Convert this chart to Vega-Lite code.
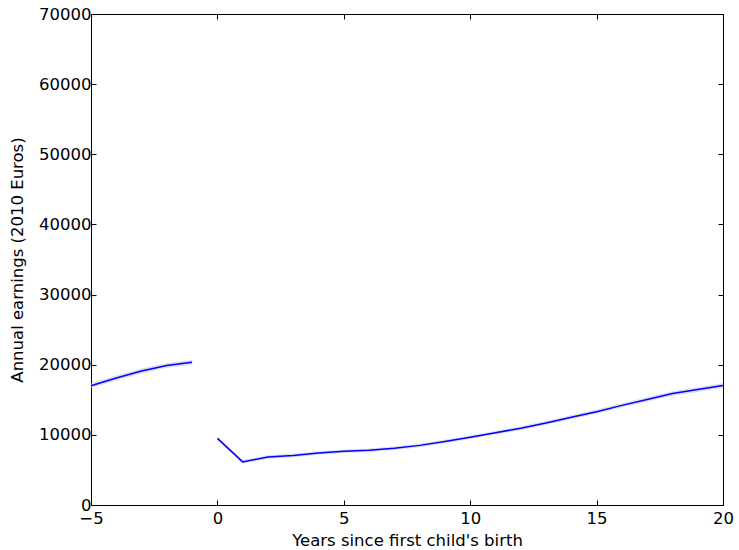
{
  "$schema": "https://vega.github.io/schema/vega-lite/v6.json",
  "width": 632,
  "height": 491,
  "autosize": {"type": "none"},
  "padding": {"left": 91, "top": 14, "right": 16, "bottom": 45},
  "background": "white",
  "config": {
    "font": "DejaVu Sans",
    "view": {"stroke": "black", "strokeWidth": 1},
    "axis": {
      "grid": false,
      "domainColor": "black",
      "domainWidth": 1,
      "tickColor": "black",
      "tickSize": -5,
      "tickWidth": 1,
      "labelFlush": false,
      "labelOverlap": false,
      "labelFont": "DejaVu Sans",
      "labelFontSize": 16.5,
      "labelColor": "black",
      "titleFont": "DejaVu Sans",
      "titleFontSize": 16.5,
      "titleFontWeight": "normal",
      "titleColor": "black"
    }
  },
  "data": {
    "values": [
      {"t": -5, "earn": 17000, "lo": 16650, "hi": 17350, "seg": "pre"},
      {"t": -4, "earn": 18100, "lo": 17750, "hi": 18450, "seg": "pre"},
      {"t": -3, "earn": 19100, "lo": 18750, "hi": 19450, "seg": "pre"},
      {"t": -2, "earn": 19900, "lo": 19550, "hi": 20250, "seg": "pre"},
      {"t": -1, "earn": 20350, "lo": 20000, "hi": 20700, "seg": "pre"},
      {"t": 0, "earn": 9500, "lo": 9250, "hi": 9750, "seg": "post"},
      {"t": 1, "earn": 6150, "lo": 5900, "hi": 6400, "seg": "post"},
      {"t": 2, "earn": 6850, "lo": 6600, "hi": 7100, "seg": "post"},
      {"t": 3, "earn": 7050, "lo": 6800, "hi": 7300, "seg": "post"},
      {"t": 4, "earn": 7400, "lo": 7150, "hi": 7650, "seg": "post"},
      {"t": 5, "earn": 7650, "lo": 7400, "hi": 7900, "seg": "post"},
      {"t": 6, "earn": 7800, "lo": 7550, "hi": 8050, "seg": "post"},
      {"t": 7, "earn": 8100, "lo": 7850, "hi": 8350, "seg": "post"},
      {"t": 8, "earn": 8500, "lo": 8250, "hi": 8750, "seg": "post"},
      {"t": 9, "earn": 9050, "lo": 8800, "hi": 9300, "seg": "post"},
      {"t": 10, "earn": 9650, "lo": 9400, "hi": 9900, "seg": "post"},
      {"t": 11, "earn": 10300, "lo": 10050, "hi": 10550, "seg": "post"},
      {"t": 12, "earn": 10950, "lo": 10690, "hi": 11210, "seg": "post"},
      {"t": 13, "earn": 11700, "lo": 11430, "hi": 11970, "seg": "post"},
      {"t": 14, "earn": 12500, "lo": 12220, "hi": 12780, "seg": "post"},
      {"t": 15, "earn": 13300, "lo": 13010, "hi": 13590, "seg": "post"},
      {"t": 16, "earn": 14200, "lo": 13900, "hi": 14500, "seg": "post"},
      {"t": 17, "earn": 15050, "lo": 14740, "hi": 15360, "seg": "post"},
      {"t": 18, "earn": 15900, "lo": 15580, "hi": 16220, "seg": "post"},
      {"t": 19, "earn": 16450, "lo": 16120, "hi": 16780, "seg": "post"},
      {"t": 20, "earn": 17050, "lo": 16710, "hi": 17390, "seg": "post"}
    ]
  },
  "layer": [
    {
      "mark": {"type": "area", "color": "#c4c4e0", "opacity": 0.6},
      "encoding": {
        "x": {
          "field": "t", "type": "quantitative",
          "scale": {"domain": [-5, 20], "nice": false, "zero": false},
          "axis": {"title": "Years since first child's birth", "values": [-5, 0, 5, 10, 15, 20], "labelPadding": 10, "titlePadding": 6}
        },
        "y": {
          "field": "lo", "type": "quantitative",
          "scale": {"domain": [0, 70000], "nice": false, "zero": true},
          "axis": {"title": "Annual earnings (2010 Euros)", "values": [0, 10000, 20000, 30000, 40000, 50000, 60000, 70000], "format": "d", "labelPadding": 5, "titlePadding": 13}
        },
        "y2": {"field": "hi"},
        "detail": {"field": "seg"}
      }
    },
    {
      "mark": {"type": "line", "color": "#0000ff", "strokeWidth": 1.5},
      "encoding": {
        "x": {
          "field": "t", "type": "quantitative",
          "axis": {"orient": "top", "labels": false, "title": null, "values": [-5, 0, 5, 10, 15, 20]}
        },
        "y": {
          "field": "earn", "type": "quantitative",
          "axis": {"orient": "right", "labels": false, "title": null, "values": [0, 10000, 20000, 30000, 40000, 50000, 60000, 70000]}
        },
        "detail": {"field": "seg"}
      }
    }
  ],
  "resolve": {"axis": {"x": "independent", "y": "independent"}}
}
